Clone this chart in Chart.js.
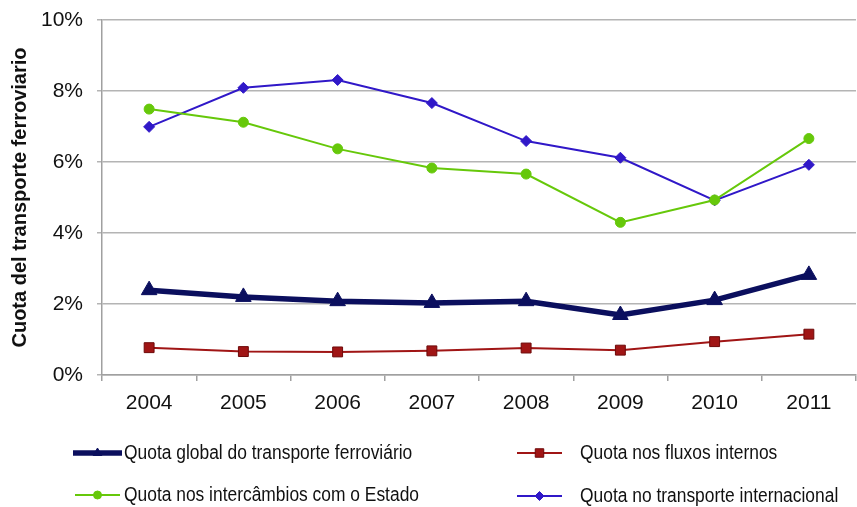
<!DOCTYPE html>
<html>
<head>
<meta charset="utf-8">
<script src="https://cdn.jsdelivr.net/npm/chart.js@4"></script>
<style>
  html, body { margin: 0; padding: 0; background: #fff; overflow: hidden; }
  #wrap { width: 866px; height: 507px; }
</style>
</head>
<body>
<div id="wrap"><canvas id="cuotaChart" width="866" height="507"></canvas></div>
<script>
const anos = ['2004', '2005', '2006', '2007', '2008', '2009', '2010', '2011'];

// % quota del transporte ferroviario
const quotaGlobal = [2.39, 2.20, 2.08, 2.03, 2.08, 1.69, 2.11, 2.82];
const quotaInternos = [0.77, 0.66, 0.65, 0.68, 0.76, 0.70, 0.94, 1.15];
const quotaEstado = [7.49, 7.12, 6.37, 5.83, 5.66, 4.30, 4.93, 6.66];
const quotaInternacional = [6.99, 8.09, 8.31, 7.66, 6.59, 6.12, 4.92, 5.92];

const yTicks = [0, 2, 4, 6, 8, 10];

const series = [
  { label: 'Quota global do transporte ferroviário', data: quotaGlobal, color: '#0b0f5e', width: 5.5, point: 'triangle', r: 9, lr: 5 },
  { label: 'Quota nos fluxos internos', data: quotaInternos, color: '#a01515', width: 2, point: 'rect', r: 7, lr: 6, border: '#6e0a0a' },
  { label: 'Quota nos intercâmbios com o Estado', data: quotaEstado, color: '#66c80a', width: 2, point: 'circle', r: 5, lr: 4 },
  { label: 'Quota no transporte internacional', data: quotaInternacional, color: '#3018c8', width: 2, point: 'rectRot', r: 5.5, lr: 4.5 }
];

// legend laid out in two columns under the axis
const legendSlots = [
  { x: 73, len: 49, tx: 124, y: 453 },
  { x: 517, len: 45, tx: 580, y: 453 },
  { x: 75, len: 45, tx: 124, y: 495 },
  { x: 517, len: 45, tx: 580, y: 496 }
];
const legendSqueeze = 0.87;

const legendPlugin = {
  id: 'legendaInferior',
  afterDraw(chart) {
    const ctx = chart.ctx;
    ctx.save();
    series.forEach((s, i) => {
      const p = legendSlots[i];
      ctx.strokeStyle = s.color;
      ctx.lineWidth = s.width;
      ctx.beginPath();
      ctx.moveTo(p.x, p.y);
      ctx.lineTo(p.x + p.len, p.y);
      ctx.stroke();
      ctx.fillStyle = s.color;
      ctx.strokeStyle = s.border || s.color;
      ctx.lineWidth = 1;
      Chart.helpers.drawPoint(ctx, { pointStyle: s.point, radius: s.lr, borderWidth: 1, rotation: 0 }, p.x + p.len / 2, p.y);

      // condensed label text
      ctx.save();
      ctx.translate(p.tx, p.y);
      ctx.scale(legendSqueeze, 1);
      ctx.fillStyle = '#111';
      ctx.font = '20px "Liberation Sans", Arial, sans-serif';
      ctx.textBaseline = 'middle';
      ctx.textAlign = 'left';
      ctx.fillText(s.label, 0, 0);
      ctx.restore();
    });
    ctx.restore();
  }
};

new Chart(document.getElementById('cuotaChart'), {
  type: 'line',
  data: {
    labels: anos,
    datasets: series.map(s => ({
      label: s.label,
      data: s.data,
      borderColor: s.color,
      backgroundColor: s.color,
      pointBorderColor: s.border || s.color,
      borderWidth: s.width,
      pointStyle: s.point,
      pointRadius: s.r,
      pointBorderWidth: 1,
      tension: 0,
      fill: false
    }))
  },
  options: {
    responsive: false,
    animation: false,
    layout: { padding: { top: 20, left: 0, right: 0, bottom: 0 } },
    plugins: { legend: { display: false }, tooltip: { enabled: false } },
    scales: {
      x: {
        offset: true,
        grid: { offset: true, drawOnChartArea: false, color: '#a0a0a0', tickLength: 6, lineWidth: 1.5 },
        border: { color: '#a0a0a0', width: 1.5 },
        ticks: { color: '#111', font: { family: 'Liberation Sans, Arial, sans-serif', size: 21 }, padding: 10, maxRotation: 0 },
        afterFit(scale) { scale.height = 132; }
      },
      y: {
        min: 0,
        max: 10,
        afterBuildTicks(scale) { scale.ticks = yTicks.map(v => ({ value: v })); },
        grid: { color: '#b4b4b4', lineWidth: 1.5, tickLength: 5 },
        border: { color: '#a0a0a0', width: 1.5 },
        ticks: {
          color: '#111',
          font: { family: 'Liberation Sans, Arial, sans-serif', size: 21 },
          padding: 14,
          callback: v => v + '%'
        },
        title: {
          display: true,
          text: 'Cuota del transporte ferroviario',
          color: '#111',
          font: { family: 'Liberation Sans, Arial, sans-serif', size: 20, weight: 'bold' },
          padding: { top: 8, bottom: 0 }
        },
        afterFit(scale) {
          scale.width = 102;
          scale.paddingTop = 0;
          scale.paddingBottom = 0;
        }
      }
    }
  },
  plugins: [legendPlugin]
});
</script>
</body>
</html>
